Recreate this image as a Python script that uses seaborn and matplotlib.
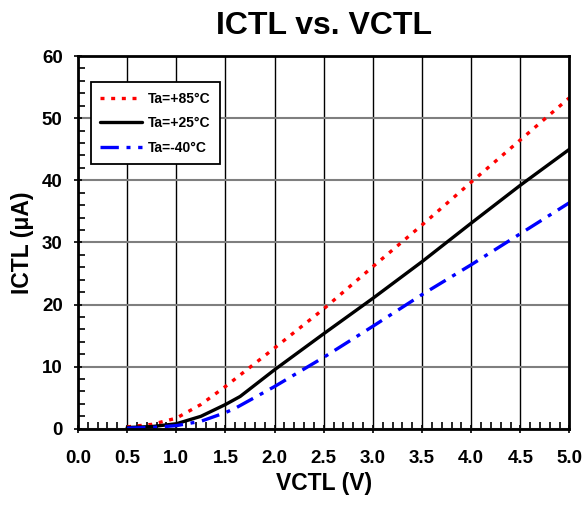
import matplotlib
matplotlib.use("Agg")
import matplotlib.pyplot as plt
from matplotlib.ticker import MultipleLocator
import seaborn as sns
import pandas as pd

# ---- data ----
v_85 = [0.5, 0.75, 1.0, 1.25, 1.5, 2.0, 2.5, 3.0, 3.5, 4.0, 4.5, 5.0]
i_85 = [0.3, 0.7, 1.7, 3.9, 6.8, 13.0, 19.3, 26.1, 32.8, 39.7, 46.5, 53.3]

v_25 = [0.5, 0.75, 1.0, 1.25, 1.5, 1.65, 2.0, 2.5, 3.0, 3.5, 4.0, 4.5, 5.0]
i_25 = [0.2, 0.35, 0.8, 2.0, 3.9, 5.2, 9.5, 15.3, 21.0, 26.9, 33.1, 39.2, 45.0]

v_m40 = [0.5, 0.75, 1.0, 1.25, 1.5, 1.6, 2.0, 2.5, 3.0, 3.5, 4.0, 4.5, 5.0]
i_m40 = [0.1, 0.2, 0.5, 1.2, 2.6, 3.3, 6.8, 11.5, 16.5, 21.6, 26.4, 31.4, 36.4]

labels = ["Ta=+85°C", "Ta=+25°C", "Ta=-40°C"]
x_ticks = [0.0, 0.5, 1.0, 1.5, 2.0, 2.5, 3.0, 3.5, 4.0, 4.5, 5.0]
y_ticks = [0, 10, 20, 30, 40, 50, 60]

df = pd.concat([
    pd.DataFrame({"VCTL": v_85, "ICTL": i_85, "Ta": labels[0]}),
    pd.DataFrame({"VCTL": v_25, "ICTL": i_25, "Ta": labels[1]}),
    pd.DataFrame({"VCTL": v_m40, "ICTL": i_m40, "Ta": labels[2]}),
], ignore_index=True)

sns.set_style("white")
plt.rcParams["font.family"] = ["Liberation Sans", "DejaVu Sans"]
plt.rcParams["font.weight"] = "bold"
plt.rcParams["text.color"] = "black"
plt.rcParams["axes.labelcolor"] = "black"
plt.rcParams["xtick.color"] = "black"
plt.rcParams["ytick.color"] = "black"

fig = plt.figure(figsize=(5.82, 5.05), dpi=100)
ax = fig.add_axes([0.134, 0.151, 0.8445, 0.738])

palette = {labels[0]: "#ff0000", labels[1]: "#000000", labels[2]: "#0000ff"}
dashes = {labels[0]: (1.2, 2.0), labels[1]: "", labels[2]: (5.5, 2.3, 1.2, 2.3)}

sns.lineplot(data=df, x="VCTL", y="ICTL", hue="Ta", style="Ta",
             palette=palette, dashes=dashes, hue_order=labels, style_order=labels,
             linewidth=2.4, ax=ax, sort=False, estimator=None)

ax.set_xlim(0, 5)
ax.set_ylim(0, 60)
ax.set_xticks(x_ticks)
ax.set_xticklabels([f"{t:.1f}" for t in x_ticks])
ax.set_yticks(y_ticks)
ax.set_yticklabels([str(t) for t in y_ticks])
ax.xaxis.set_minor_locator(MultipleLocator(0.1))
ax.yaxis.set_minor_locator(MultipleLocator(2))

ax.xaxis.grid(True, which="major", color="black", linewidth=1.0)
ax.yaxis.grid(True, which="major", color="#7f7f7f", linewidth=1.5)
ax.set_axisbelow(True)

ax.tick_params(axis="both", which="major", labelsize=13.5, direction="inout",
               length=6, width=1.2, colors="black")
ax.tick_params(axis="both", which="minor", direction="in", length=5, width=1.2,
               colors="black")
ax.tick_params(axis="x", which="major", pad=12)
ax.tick_params(axis="y", which="major", pad=8)
ax.tick_params(axis="y", which="both", left=True)
ax.tick_params(axis="x", which="both", bottom=True)
for lab in ax.get_xticklabels() + ax.get_yticklabels():
    lab.set_fontweight("bold")

for s in ax.spines.values():
    s.set_visible(True)
    s.set_color("black")
    s.set_linewidth(2.0)

ax.set_xlabel("VCTL (V)", fontsize=16.5, fontweight="bold", labelpad=4, color="black")
ax.set_ylabel("ICTL (μA)", fontsize=16.5, fontweight="bold", labelpad=6, color="black")
ax.set_title("ICTL vs. VCTL", fontsize=23, fontweight="bold", pad=16, color="black")

leg = ax.legend(loc="upper left", bbox_to_anchor=(0.026, 0.93), frameon=True,
                fancybox=False, shadow=False, fontsize=10, handlelength=3.0,
                borderpad=0.7, labelspacing=0.75, handletextpad=0.4,
                borderaxespad=0, title=None)
leg.get_frame().set_edgecolor("black")
leg.get_frame().set_linewidth(1.3)
leg.get_frame().set_alpha(1)
for t in leg.get_texts():
    t.set_fontweight("bold")
    t.set_color("black")

fig.savefig("out.png", dpi=100)
